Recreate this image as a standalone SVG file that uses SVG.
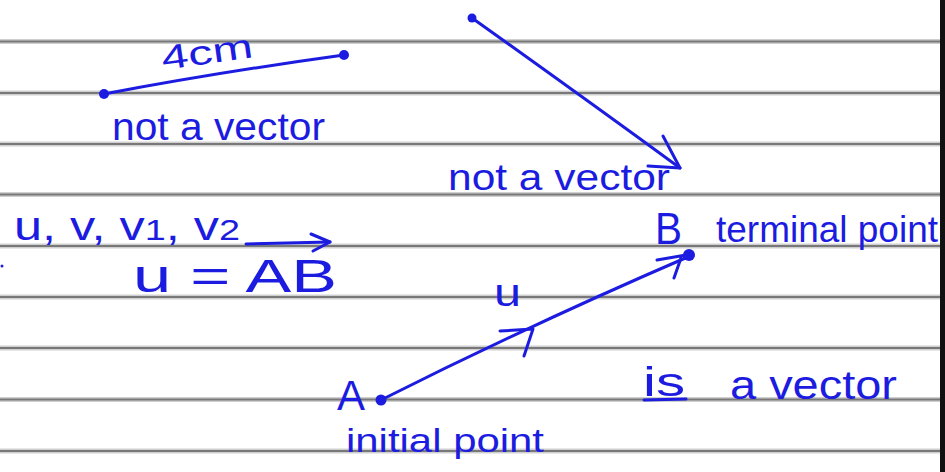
<svg xmlns="http://www.w3.org/2000/svg" width="945" height="472" viewBox="0 0 945 472">
<style>
.rule{stroke:#cfcfcf;stroke-width:5}
.rule2{stroke:#787878;stroke-width:2}
.ink{stroke:#1c1ce0;stroke-width:3;fill:none;stroke-linecap:round;stroke-linejoin:round}
.dot{fill:#1c1ce0}
.t{fill:#1c1ce0;font-family:"Liberation Sans","DejaVu Sans",sans-serif}
</style>
<rect width="945" height="472" fill="#ffffff"/>
<g id="paper">
<g class="rule">
<line x1="0" y1="41.5" x2="940" y2="41.5"/><line x1="0" y1="93" x2="940" y2="93"/><line x1="0" y1="144" x2="940" y2="144"/><line x1="0" y1="194.5" x2="940" y2="194.5"/><line x1="0" y1="246" x2="940" y2="246"/><line x1="0" y1="297" x2="940" y2="297"/><line x1="0" y1="348" x2="940" y2="348"/><line x1="0" y1="399.5" x2="940" y2="399.5"/><line x1="0" y1="451" x2="940" y2="451"/>
</g>
<g class="rule2">
<line x1="0" y1="41.5" x2="940" y2="41.5"/><line x1="0" y1="93" x2="940" y2="93"/><line x1="0" y1="144" x2="940" y2="144"/><line x1="0" y1="194.5" x2="940" y2="194.5"/><line x1="0" y1="246" x2="940" y2="246"/><line x1="0" y1="297" x2="940" y2="297"/><line x1="0" y1="348" x2="940" y2="348"/><line x1="0" y1="399.5" x2="940" y2="399.5"/><line x1="0" y1="451" x2="940" y2="451"/>
</g>
<rect x="940" y="0" width="5" height="472" fill="#111"/>
</g>
<g id="segment">
<path class="ink" d="M104 94 Q220 72 344 55"/>
<circle class="dot" cx="104" cy="94" r="5"/>
<circle class="dot" cx="344" cy="55" r="5"/>
<text class="t" x="163" y="70" font-size="34" textLength="92" lengthAdjust="spacingAndGlyphs" transform="rotate(-8 163 70)">4cm</text>
<text class="t" x="112" y="140" font-size="38" textLength="213" lengthAdjust="spacingAndGlyphs">not a vector</text>
</g>
<g id="arrow2">
<path class="ink" d="M472 18 Q580 95 680 168"/>
<path class="ink" d="M663 136 L680 168 L648 166"/>
<circle class="dot" cx="472" cy="18" r="4.5"/>
<text class="t" x="448" y="190" font-size="36" textLength="222" lengthAdjust="spacingAndGlyphs">not a vector</text>
</g>
<g id="notation">
<text class="t" x="14" y="240" font-size="40" textLength="226" lengthAdjust="spacingAndGlyphs">u, v,  v<tspan font-size="30">1</tspan>, v<tspan font-size="30">2</tspan></text>
<circle class="dot" cx="2" cy="266" r="1.5"/>
<text class="t" x="133" y="292" font-size="46" textLength="204" lengthAdjust="spacingAndGlyphs">u = AB</text>
<path class="ink" d="M246 244 L330 242"/>
<path class="ink" d="M311 234 L330 242 L313 251"/>
</g>
<g id="vector-u">
<path class="ink" d="M381 400 Q530 325 690 256"/>
<path class="ink" d="M500 331 L533 329 L524 356"/>
<path class="ink" d="M657 260 L686 255 M681 258 L674 278"/>
<circle class="dot" cx="381" cy="400" r="5.5"/>
<circle class="dot" cx="689" cy="255" r="6"/>
<text class="t" x="494" y="306" font-size="38" textLength="27" lengthAdjust="spacingAndGlyphs">u</text>
<text class="t" x="337" y="410" font-size="42">A</text>
<text class="t" x="346" y="452" font-size="33" textLength="198" lengthAdjust="spacingAndGlyphs">initial point</text>
<text class="t" x="655" y="244" font-size="44" textLength="27" lengthAdjust="spacingAndGlyphs">B</text>
<text class="t" x="716" y="242" font-size="36" textLength="222" lengthAdjust="spacingAndGlyphs">terminal point</text>
</g>
<g id="is-vector">
<text class="t" x="643" y="396" font-size="40" textLength="42" lengthAdjust="spacingAndGlyphs">is</text>
<path class="ink" d="M644 400 L686 399"/>
<text class="t" x="730" y="399" font-size="40" textLength="167" lengthAdjust="spacingAndGlyphs">a vector</text>
</g>
</svg>
